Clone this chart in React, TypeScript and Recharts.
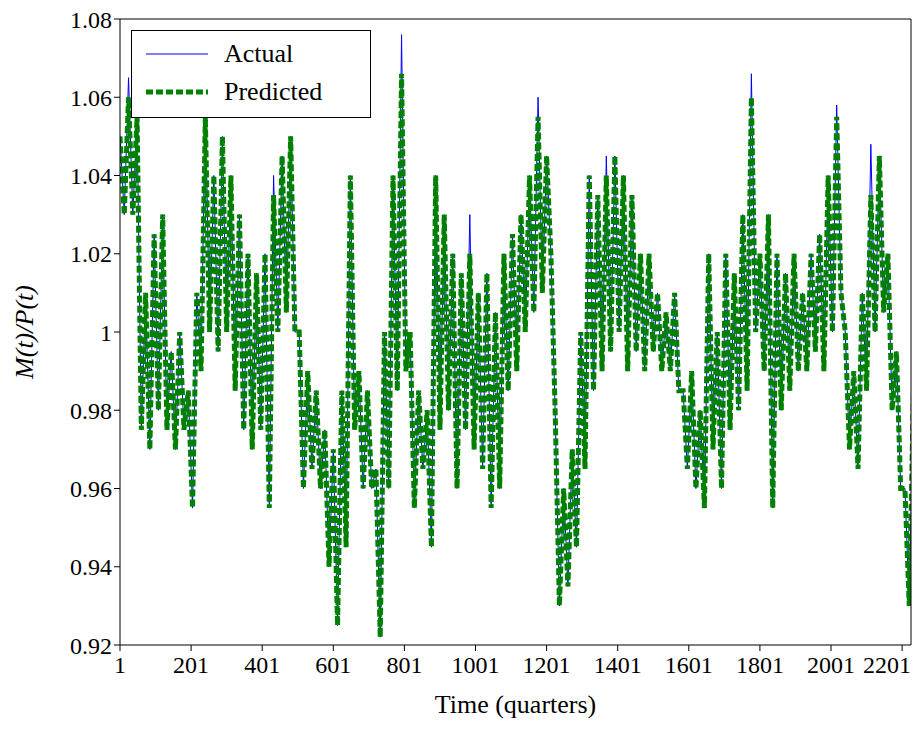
import { LineChart, Line, XAxis, YAxis } from 'recharts';

// alternating high/low envelope of the series, one value every 12 quarters
const predicted = [
  1.05, 1.03, 1.06, 1.03, 1.055, 0.975, 1.01, 0.97, 1.025, 0.98, 1.03, 0.975, 0.995, 0.97, 1.0, 0.975,
  0.985, 0.955, 1.01, 0.99, 1.055, 1.0, 1.04, 0.995, 1.05, 1.0, 1.04, 0.985, 1.03, 0.975, 1.02, 0.97,
  1.015, 0.975, 1.02, 0.955, 1.035, 1.0, 1.045, 1.005, 1.05, 1.0, 1.0, 0.96, 0.99, 0.965, 0.985, 0.96,
  0.975, 0.94, 0.97, 0.925, 0.985, 0.945, 1.04, 0.975, 0.99, 0.96, 0.985, 0.96, 0.965, 0.922, 1.0, 0.96,
  1.04, 0.985, 1.066, 0.99, 1.0, 0.955, 0.985, 0.965, 0.98, 0.945, 1.04, 0.975, 1.03, 0.98, 1.02, 0.96,
  1.015, 0.975, 1.02, 0.97, 1.01, 0.965, 1.015, 0.955, 1.005, 0.96, 1.02, 0.985, 1.025, 0.99, 1.03, 1.0,
  1.04, 1.005, 1.055, 1.01, 1.045, 1.02, 0.98, 0.93, 0.96, 0.935, 0.97, 0.945, 1.0, 0.965, 1.04, 0.985,
  1.035, 0.99, 1.04, 0.995, 1.045, 1.0, 1.04, 0.99, 1.035, 0.995, 1.02, 0.99, 1.02, 0.995, 1.01, 0.99,
  1.005, 0.99, 1.01, 0.985, 0.985, 0.965, 0.99, 0.96, 0.98, 0.955, 1.02, 0.97, 1.0, 0.96, 1.02, 0.975,
  1.015, 0.98, 1.03, 0.985, 1.06, 1.0, 1.02, 0.99, 1.03, 0.955, 1.02, 0.98, 1.015, 0.985, 1.02, 0.99,
  1.01, 0.99, 1.02, 0.995, 1.025, 0.99, 1.04, 1.0, 1.055, 1.01, 1.0, 0.97, 0.99, 0.965, 1.01, 0.985,
  1.035, 1.0, 1.045, 1.005, 1.02, 0.98, 0.995, 0.96, 0.96, 0.93, 0.985, 0.95,
];

// spots where the actual series peaks above the prediction: [index, value]
const actualSpikes: [number, number][] = [
  [2, 1.065], [20, 1.06], [66, 1.076], [98, 1.06], [82, 1.03], [148, 1.066], [168, 1.058], [176, 1.048], [114, 1.045], [36, 1.04],
];

const xTicks = [1, 201, 401, 601, 801, 1001, 1201, 1401, 1601, 1801, 2001, 2201];
const yTicks = [0.92, 0.94, 0.96, 0.98, 1, 1.02, 1.04, 1.06, 1.08];

const spikeMap = new Map(actualSpikes);
const data = predicted.map((p, i) => ({
  t: 1 + 12 * i,
  predicted: p,
  actual: spikeMap.get(i) ?? p,
}));

const font = '"Liberation Serif", "DejaVu Serif", serif';
const tick = { fill: '#000', fontSize: 24, fontFamily: font };

function XTick({ x, y, payload }: any) {
  const last = payload.value === 2201;
  return (
    <text x={last ? 911 : x} y={y + 20} textAnchor={last ? 'end' : 'middle'} fill="#000" fontSize={24} fontFamily={font}>
      {payload.value}
    </text>
  );
}

function LegendBox() {
  return (
    <div style={{ position: 'absolute', left: 131, top: 30, border: '1px solid #000', background: '#fff', padding: '4px 16px 6px 10px', fontFamily: font, fontSize: 26, lineHeight: '38px', width: 212 }}>
      <div style={{ display: 'flex', alignItems: 'center' }}>
        <svg width={70} height={10}><line x1={4} x2={66} y1={5} y2={5} stroke="#0000ff" strokeWidth={1} /></svg>
        <span style={{ marginLeft: 12 }}>Actual</span>
      </div>
      <div style={{ display: 'flex', alignItems: 'center' }}>
        <svg width={70} height={10}><line x1={4} x2={66} y1={5} y2={5} stroke="#008000" strokeWidth={5} strokeDasharray="7 3" /></svg>
        <span style={{ marginLeft: 12 }}>Predicted</span>
      </div>
    </div>
  );
}

export default function App() {
  return (
    <div style={{ position: 'absolute', left: 0, top: 0, background: '#fff' }}>
      <LineChart width={913} height={730} data={data} margin={{ top: 18, right: 1, left: 60, bottom: 55 }}>
        <XAxis
          dataKey="t"
          type="number"
          domain={[1, 2226]}
          allowDataOverflow
          ticks={xTicks}
          interval={0}
          tick={<XTick />}
          tickSize={6}
          height={30}
          stroke="#000"
          label={{ value: 'Time (quarters)', position: 'insideBottom', offset: -38, style: { fill: '#000', fontSize: 26, fontFamily: font } }}
        />
        <XAxis xAxisId="top" orientation="top" dataKey="t" type="number" domain={[1, 2226]} allowDataOverflow tick={false} tickLine={false} height={1} stroke="#000" />
        <YAxis
          type="number"
          domain={[0.92, 1.08]}
          ticks={yTicks}
          interval={0}
          tick={tick}
          width={60}
          tickSize={6}
          stroke="#000"
          allowDataOverflow
          label={{ value: 'M(t)/P(t)', angle: -90, position: 'insideLeft', offset: -36, style: { fill: '#000', fontSize: 26, fontFamily: font, fontStyle: 'italic', textAnchor: 'middle' } }}
        />
        <YAxis yAxisId="right" orientation="right" domain={[0.92, 1.08]} tick={false} tickLine={false} width={1} stroke="#000" />
        <Line dataKey="actual" type="linear" stroke="#0000ff" strokeWidth={1} dot={false} isAnimationActive={false} />
        <Line dataKey="predicted" type="linear" stroke="#008000" strokeWidth={5} strokeDasharray="7 3" dot={false} isAnimationActive={false} />
      </LineChart>
      <LegendBox />
    </div>
  );
}
